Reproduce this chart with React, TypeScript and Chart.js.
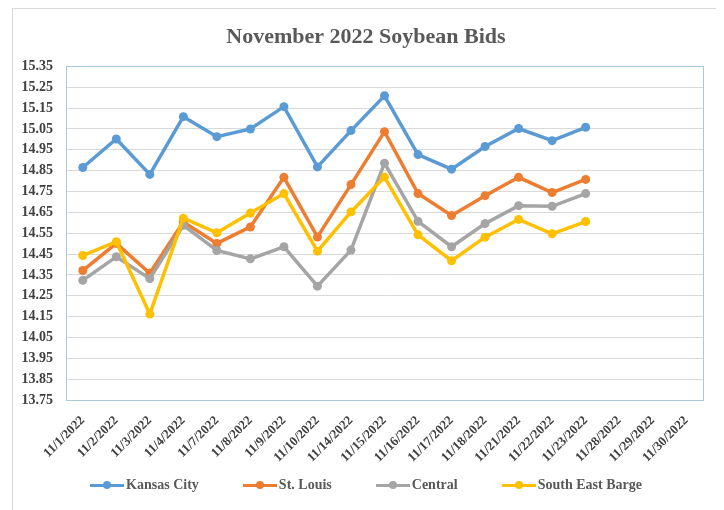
import React, { useEffect, useRef } from "react";
import { Chart, registerables } from "chart.js";

Chart.register(...registerables);

const categories = [
  "11/1/2022", "11/2/2022", "11/3/2022", "11/4/2022", "11/7/2022", "11/8/2022",
  "11/9/2022", "11/10/2022", "11/14/2022", "11/15/2022", "11/16/2022", "11/17/2022",
  "11/18/2022", "11/21/2022", "11/22/2022", "11/23/2022", "11/28/2022", "11/29/2022",
  "11/30/2022",
];

const kansasCity = [14.865, 15.002, 14.832, 15.109, 15.013, 15.05, 15.157, 14.868, 15.042, 15.209, 14.927, 14.857, 14.966, 15.052, 14.994, 15.058, null, null, null];
const stLouis = [14.371, 14.501, 14.358, 14.604, 14.501, 14.58, 14.818, 14.532, 14.783, 15.037, 14.74, 14.635, 14.73, 14.818, 14.745, 14.808, null, null, null];
const central = [14.324, 14.437, 14.332, 14.588, 14.467, 14.427, 14.485, 14.296, 14.469, 14.886, 14.607, 14.485, 14.596, 14.682, 14.679, 14.74, null, null, null];
const southEastBarge = [14.443, 14.509, 14.162, 14.622, 14.552, 14.647, 14.74, 14.464, 14.652, 14.819, 14.542, 14.418, 14.531, 14.616, 14.547, 14.606, null, null, null];

const seriesNames = ["Kansas City", "St. Louis", "Central", "South East Barge"];
const seriesColors = ["#5B9BD5", "#ED7D31", "#A5A5A5", "#FFC000"];
const seriesValues = [kansasCity, stLouis, central, southEastBarge];

const yMin = 13.75;
const yMax = 15.35;
const yStep = 0.1;

const FONT = "'Liberation Serif', 'Times New Roman', serif";

const plotBorder = {
  id: "plotBorder",
  afterDraw(chart: any) {
    const { ctx, chartArea } = chart;
    ctx.save();
    ctx.strokeStyle = "#a9cbd6";
    ctx.lineWidth = 1;
    ctx.strokeRect(
      Math.round(chartArea.left) + 0.5,
      Math.round(chartArea.top) + 0.5,
      Math.round(chartArea.right - chartArea.left),
      Math.round(chartArea.bottom - chartArea.top)
    );
    ctx.restore();
  },
};

export default function App() {
  const ref = useRef<HTMLCanvasElement | null>(null);

  useEffect(() => {
    if (!ref.current) return;
    const chart = new Chart(ref.current, {
      type: "line",
      data: {
        labels: categories,
        datasets: seriesValues.map((vals, i) => ({
          label: seriesNames[i],
          data: vals,
          borderColor: seriesColors[i],
          backgroundColor: seriesColors[i],
          pointBackgroundColor: seriesColors[i],
          pointBorderColor: seriesColors[i],
          borderWidth: 3.5,
          pointRadius: 4.5,
          pointBorderWidth: 0,
          tension: 0,
          spanGaps: false,
          order: 4 - i,
        })),
      },
      options: {
        animation: false,
        responsive: false,
        layout: { padding: { left: 0, right: 0, top: 0, bottom: 0 } },
        plugins: {
          legend: { display: false },
          tooltip: { enabled: false },
          title: {
            display: true,
            text: "November 2022 Soybean Bids",
            color: "#595959",
            font: { family: FONT, size: 22, weight: "bold" },
            padding: { top: 15, bottom: 16 },
          },
        },
        scales: {
          x: {
            offset: true,
            grid: { display: false, drawTicks: false },
            border: { display: false },
            ticks: {
              autoSkip: false,
              maxRotation: 45,
              minRotation: 45,
              padding: 13,
              color: "#404040",
              font: { family: FONT, size: 13, weight: "bold" },
            },
            afterFit(scale: any) {
              scale.height = 110;
            },
          },
          y: {
            min: yMin,
            max: yMax,
            grid: { color: "#d9d9d9", lineWidth: 1, drawTicks: false },
            border: { display: false },
            ticks: {
              stepSize: yStep,
              padding: 13,
              color: "#404040",
              font: { family: FONT, size: 14, weight: "bold" },
              callback: (v: any) => Number(v).toFixed(2),
            },
            afterFit(scale: any) {
              scale.width = 53;
            },
          },
          rightGap: {
            type: "linear",
            position: "right",
            display: true,
            grid: { display: false, drawTicks: false },
            border: { display: false },
            ticks: { display: false },
            afterFit(scale: any) {
              scale.width = 16;
            },
          },
        },
      },
      plugins: [plotBorder],
    });
    return () => chart.destroy();
  }, []);

  return (
    <div
      style={{
        position: "relative",
        marginLeft: 4,
        width: 708,
        height: 503,
        border: "1px solid #d9d9d9",
        boxSizing: "border-box",
        background: "#fff",
      }}
    >
      <canvas ref={ref} width={706} height={501} style={{ display: "block" }} />
      <div
        style={{
          position: "absolute",
          top: 468,
          left: 0,
          right: 0,
          display: "flex",
          justifyContent: "center",
          gap: 44,
          fontFamily: FONT,
          fontWeight: "bold",
          fontSize: 14,
          color: "#595959",
          lineHeight: "16px",
        }}
      >
        {seriesNames.map((name, i) => (
          <div key={name} style={{ display: "flex", alignItems: "center" }}>
            <div style={{ position: "relative", width: 34, height: 16, marginRight: 2 }}>
              <div
                style={{
                  position: "absolute",
                  left: 0,
                  top: 6.5,
                  width: 34,
                  height: 3,
                  background: seriesColors[i],
                }}
              />
              <div
                style={{
                  position: "absolute",
                  left: 13,
                  top: 4,
                  width: 8,
                  height: 8,
                  borderRadius: 4,
                  background: seriesColors[i],
                }}
              />
            </div>
            <span>{name}</span>
          </div>
        ))}
      </div>
    </div>
  );
}
